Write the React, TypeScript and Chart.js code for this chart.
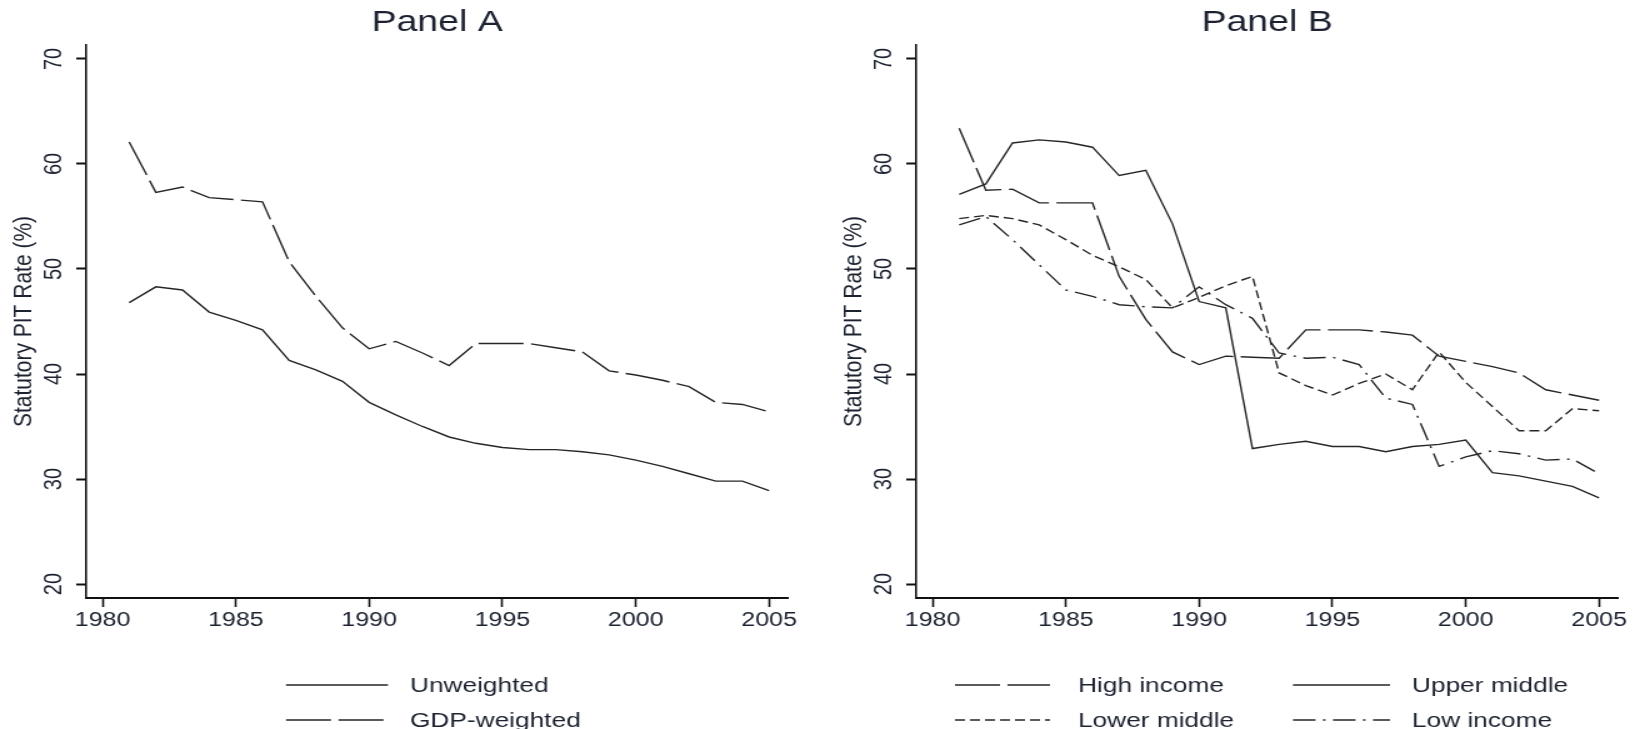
import React, { useEffect, useRef } from "react";
import { Chart, registerables } from "chart.js";

Chart.register(...registerables);

// ---------- data ----------
const years = [
  1981, 1982, 1983, 1984, 1985, 1986, 1987, 1988, 1989, 1990, 1991, 1992, 1993,
  1994, 1995, 1996, 1997, 1998, 1999, 2000, 2001, 2002, 2003, 2004, 2005,
];
const xTicks = [1980, 1985, 1990, 1995, 2000, 2005];
const yTicks = [20, 30, 40, 50, 60, 70];

// Panel A
const unweighted = [
  46.8, 48.3, 48.0, 45.9, 45.1, 44.2, 41.3, 40.4, 39.3, 37.3, 36.1, 35.0, 34.0,
  33.4, 33.0, 32.8, 32.8, 32.6, 32.3, 31.8, 31.2, 30.5, 29.8, 29.8, 28.9,
];
const gdpWeighted = [
  62.1, 57.3, 57.8, 56.8, 56.6, 56.4, 50.7, 47.4, 44.4, 42.4, 43.1, 42.0, 40.8,
  42.9, 42.9, 42.9, 42.5, 42.1, 40.3, 39.9, 39.4, 38.8, 37.3, 37.1, 36.4,
];

// Panel B
const highIncome = [
  63.4, 57.5, 57.6, 56.3, 56.3, 56.3, 49.3, 45.2, 42.1, 40.9, 41.7, 41.6, 41.5,
  44.2, 44.2, 44.2, 44.0, 43.7, 41.7, 41.2, 40.7, 40.1, 38.5, 38.0, 37.5,
];
const upperMiddle = [
  57.1, 58.1, 62.0, 62.3, 62.1, 61.6, 58.9, 59.4, 54.3, 46.9, 46.3, 32.9, 33.3,
  33.6, 33.1, 33.1, 32.6, 33.1, 33.3, 33.7, 30.6, 30.3, 29.8, 29.3, 28.2,
];
const lowerMiddle = [
  54.8, 55.1, 54.8, 54.2, 52.8, 51.3, 50.2, 49.0, 46.3, 47.3, 48.4, 49.3, 40.1,
  38.9, 38.0, 39.1, 40.0, 38.5, 42.1, 39.2, 36.9, 34.6, 34.6, 36.7, 36.5,
];
const lowIncome = [
  54.2, 55.0, 52.8, 50.4, 48.0, 47.4, 46.6, 46.4, 46.3, 48.3, 46.6, 45.3, 42.0,
  41.5, 41.6, 40.9, 37.7, 37.1, 31.2, 32.1, 32.7, 32.4, 31.8, 31.9, 30.5,
];

// ---------- styling ----------
const FONT = '"Liberation Sans", Arial, Helvetica, sans-serif';
const TEXT = "#1c2230";
const LINE = "#262626";
const AXIS = "#111111";
const CANVAS_W = 656; // drawn width, displayed stretched to 820px
const CANVAS_H = 729;
const STRETCH = 1.25;

const DASH_LONG = [36, 6];
const DASH_SHORT = [8, 4];
const DASH_DOT = [18, 6, 2, 6];

type LegendItem = { x: number; y: number; len: number; textX: number };

const legendPlugin = {
  id: "statLegend",
  afterDraw(chart: any, _args: any, opts: any) {
    const items: LegendItem[] = (opts && opts.items) || [];
    const ctx = chart.ctx as CanvasRenderingContext2D;
    chart.data.datasets.forEach((ds: any, i: number) => {
      const it = items[i];
      if (!it) return;
      ctx.save();
      ctx.strokeStyle = ds.borderColor;
      ctx.lineWidth = ds.borderWidth;
      ctx.setLineDash(ds.borderDash || []);
      ctx.beginPath();
      ctx.moveTo(it.x, it.y);
      ctx.lineTo(it.x + it.len, it.y);
      ctx.stroke();
      ctx.setLineDash([]);
      ctx.fillStyle = TEXT;
      ctx.font = `21px ${FONT}`;
      ctx.textBaseline = "middle";
      ctx.textAlign = "left";
      ctx.fillText(ds.label, it.textX, it.y + 1);
      ctx.restore();
    });
  },
};

function series(label: string, values: number[], dash: number[]) {
  return {
    label,
    data: years.map((yr, i) => ({ x: yr, y: values[i] })),
    borderColor: LINE,
    borderWidth: 1.4,
    borderDash: dash,
    pointRadius: 0,
    tension: 0,
    fill: false,
  };
}

function makeConfig(title: string, datasets: any[], legendItems: LegendItem[]): any {
  return {
    type: "line",
    data: { datasets },
    plugins: [legendPlugin],
    options: {
      animation: false,
      responsive: false,
      maintainAspectRatio: false,
      events: [],
      layout: { padding: { left: 0, right: 25.6, top: 0, bottom: 91 } },
      plugins: {
        legend: { display: false },
        tooltip: { enabled: false },
        title: {
          display: true,
          text: title,
          fullSize: false,
          color: TEXT,
          font: { family: FONT, size: 30, weight: "normal" },
          padding: { top: 5, bottom: 4 },
        },
        statLegend: { items: legendItems },
      },
      scales: {
        x: {
          type: "linear",
          min: 1979.39,
          max: 2005.71,
          afterBuildTicks: (s: any) => {
            s.ticks = xTicks.map((v) => ({ value: v }));
          },
          afterFit: (s: any) => {
            s.height = 40;
          },
          grid: {
            display: true,
            drawOnChartArea: false,
            drawTicks: true,
            tickLength: 9,
            tickColor: AXIS,
            tickWidth: 1.6,
          },
          border: { display: true, color: AXIS, width: 2 },
          ticks: {
            color: TEXT,
            font: { family: FONT, size: 20 },
            padding: 1,
            minRotation: 0,
            maxRotation: 0,
            autoSkip: false,
            callback: (v: any) => String(v),
          },
        },
        y: {
          type: "linear",
          min: 18.667,
          max: 71.333,
          afterBuildTicks: (s: any) => {
            s.ticks = yTicks.map((v) => ({ value: v }));
          },
          afterFit: (s: any) => {
            s.width = 69;
          },
          grid: {
            display: true,
            drawOnChartArea: false,
            drawTicks: true,
            tickLength: 8,
            tickColor: AXIS,
            tickWidth: 2,
          },
          border: { display: true, color: AXIS, width: 1.6 },
          ticks: {
            color: TEXT,
            font: { family: FONT, size: 20 },
            padding: 6,
            minRotation: 90,
            maxRotation: 90,
            crossAlign: "center",
            autoSkip: false,
            callback: (v: any) => String(v),
          },
          title: {
            display: true,
            text: "Statutory PIT Rate (%)",
            color: TEXT,
            font: { family: FONT, size: 21 },
            padding: { top: 7, bottom: 0 },
          },
        },
      },
    },
  };
}

function Panel({ left, config }: { left: number; config: () => any }) {
  const ref = useRef<HTMLCanvasElement | null>(null);
  useEffect(() => {
    if (!ref.current) return;
    const chart = new Chart(ref.current, config());
    return () => chart.destroy();
  }, []);
  return (
    <canvas
      ref={ref}
      width={CANVAS_W}
      height={CANVAS_H}
      style={{
        position: "absolute",
        left,
        top: 0,
        width: CANVAS_W * STRETCH,
        height: CANVAS_H,
        display: "block",
      }}
    />
  );
}

export default function App() {
  useEffect(() => {
    document.body.style.margin = "0";
    document.body.style.overflow = "hidden";
    document.body.style.background = "#ffffff";
  }, []);

  const configA = () =>
    makeConfig(
      "Panel A",
      [series("Unweighted", unweighted, []), series("GDP-weighted", gdpWeighted, DASH_LONG)],
      [
        { x: 228.8, y: 685, len: 81.6, textX: 328 },
        { x: 228.8, y: 720, len: 81.6, textX: 328 },
      ]
    );

  const configB = () =>
    makeConfig(
      "Panel B",
      [
        series("High income", highIncome, DASH_LONG),
        series("Upper middle", upperMiddle, []),
        series("Lower middle", lowerMiddle, DASH_SHORT),
        series("Low income", lowIncome, DASH_DOT),
      ],
      [
        { x: 100, y: 685, len: 76, textX: 198.4 },
        { x: 370.4, y: 685, len: 77.6, textX: 465.6 },
        { x: 100, y: 720, len: 76, textX: 198.4 },
        { x: 370.4, y: 720, len: 77.6, textX: 465.6 },
      ]
    );

  return (
    <div
      style={{
        position: "relative",
        width: 1640,
        height: 729,
        overflow: "hidden",
        background: "#ffffff",
      }}
    >
      <Panel left={0} config={configA} />
      <Panel left={830} config={configB} />
    </div>
  );
}
